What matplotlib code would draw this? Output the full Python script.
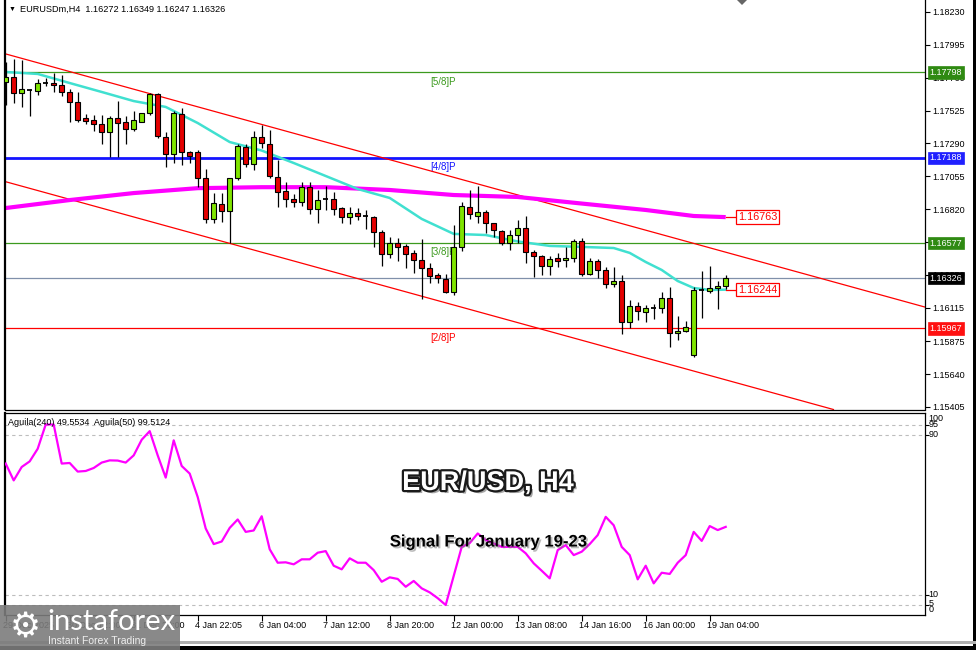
import matplotlib
matplotlib.use('Agg')
import matplotlib.pyplot as plt
import matplotlib.patheffects as pe
from matplotlib.patches import Rectangle, Polygon
from matplotlib.transforms import blended_transform_factory
import numpy as np

plt.rcParams['font.family'] = ['Liberation Sans', 'DejaVu Sans']

# ---------------- data ----------------
opens = [1.17729, 1.17763, 1.17653, 1.17672, 1.17667, 1.17720, 1.17720, 1.17708, 1.17660, 1.17588,
         1.17470, 1.17455, 1.17427, 1.17370, 1.17470, 1.17441, 1.17393, 1.17441, 1.17506, 1.17641,
         1.17338, 1.17212, 1.17500, 1.17227, 1.17227, 1.17045, 1.16747, 1.16855, 1.16809, 1.17041,
         1.17262, 1.17141, 1.17338, 1.17284, 1.17052, 1.16948, 1.16890, 1.16869, 1.16980, 1.16819,
         1.16893, 1.16893, 1.16826, 1.16762, 1.16795, 1.16771, 1.16766, 1.16659, 1.16497, 1.16576,
         1.16559, 1.16504, 1.16456, 1.16401, 1.16349, 1.16318, 1.16230, 1.16547, 1.16837, 1.16773,
         1.16802, 1.16719, 1.16666, 1.16580, 1.16635, 1.16683, 1.16516, 1.16487, 1.16416, 1.16468,
         1.16456, 1.16468, 1.16590, 1.16354, 1.16449, 1.16385, 1.16282, 1.16306, 1.16015, 1.16129,
         1.16082, 1.16115, 1.16115, 1.16187, 1.15932, 1.15951, 1.15777, 1.16242, 1.16237, 1.16254,
         1.16272]
highs = [1.17873, 1.17892, 1.17887, 1.17679, 1.17749, 1.17758, 1.17796, 1.17777, 1.17677, 1.17660,
         1.17498, 1.17493, 1.17493, 1.17488, 1.17593, 1.17486, 1.17520, 1.17508, 1.17648, 1.17648,
         1.17374, 1.17522, 1.17541, 1.17234, 1.17243, 1.17107, 1.16938, 1.16938, 1.17043, 1.17286,
         1.17284, 1.17379, 1.17422, 1.17386, 1.17172, 1.17016, 1.16928, 1.17016, 1.17016, 1.16957,
         1.16986, 1.16945, 1.16837, 1.16833, 1.16826, 1.16814, 1.16771, 1.16671, 1.16623, 1.16612,
         1.16570, 1.16528, 1.16604, 1.16433, 1.16361, 1.16354, 1.16707, 1.16873, 1.16957, 1.16986,
         1.16814, 1.16723, 1.16671, 1.16671, 1.16742, 1.16771, 1.16528, 1.16492, 1.16487, 1.16508,
         1.16549, 1.16604, 1.16614, 1.16468, 1.16465, 1.16404, 1.16406, 1.16349, 1.16170, 1.16158,
         1.16134, 1.16142, 1.16230, 1.16265, 1.16056, 1.16020, 1.16265, 1.16380, 1.16413, 1.16306,
         1.16349]
lows = [1.17565, 1.17577, 1.17553, 1.17488, 1.17636, 1.17701, 1.17660, 1.17629, 1.17445, 1.17445,
        1.17429, 1.17381, 1.17286, 1.17195, 1.17195, 1.17284, 1.17381, 1.17440, 1.17491, 1.17327,
        1.17124, 1.17152, 1.17136, 1.17148, 1.16976, 1.16719, 1.16723, 1.16730, 1.16576, 1.17028,
        1.17124, 1.17100, 1.17255, 1.17045, 1.16833, 1.16833, 1.16837, 1.16842, 1.16783, 1.16723,
        1.16814, 1.16778, 1.16723, 1.16714, 1.16742, 1.16676, 1.16551, 1.16416, 1.16468, 1.16449,
        1.16397, 1.16361, 1.16175, 1.16290, 1.16290, 1.16218, 1.16206, 1.16523, 1.16750, 1.16723,
        1.16647, 1.16623, 1.16564, 1.16528, 1.16576, 1.16433, 1.16337, 1.16349, 1.16349, 1.16408,
        1.16404, 1.16442, 1.16342, 1.16349, 1.16325, 1.16254, 1.16260, 1.15925, 1.15972, 1.16027,
        1.16015, 1.16032, 1.16075, 1.15836, 1.15884, 1.15939, 1.15762, 1.16039, 1.16218, 1.16104,
        1.16247]
closes = [1.17763, 1.17653, 1.17677, 1.17670, 1.17720, 1.17721, 1.17706, 1.17660, 1.17588, 1.17458,
          1.17453, 1.17427, 1.17370, 1.17470, 1.17434, 1.17395, 1.17455, 1.17506, 1.17641, 1.17345,
          1.17212, 1.17506, 1.17227, 1.17198, 1.17045, 1.16747, 1.16862, 1.16809, 1.17043, 1.17272,
          1.17141, 1.17338, 1.17291, 1.17057, 1.16945, 1.16890, 1.16869, 1.16980, 1.16819, 1.16885,
          1.16891, 1.16819, 1.16762, 1.16795, 1.16773, 1.16769, 1.16659, 1.16497, 1.16576, 1.16551,
          1.16497, 1.16456, 1.16397, 1.16342, 1.16325, 1.16230, 1.16547, 1.16842, 1.16785, 1.16802,
          1.16719, 1.16671, 1.16580, 1.16635, 1.16683, 1.16516, 1.16487, 1.16416, 1.16461, 1.16451,
          1.16468, 1.16590, 1.16356, 1.16447, 1.16385, 1.16282, 1.16303, 1.16015, 1.16129, 1.16092,
          1.16111, 1.16113, 1.16182, 1.15932, 1.15951, 1.15979, 1.16242, 1.16240, 1.16254, 1.16272,
          1.16326]

ma_fast_idx = [0, 4, 8, 12, 16, 20, 24, 28, 32, 36, 40, 44, 48, 52, 56, 60, 64, 68, 72, 76, 78, 80, 82, 84, 86, 88, 90]
ma_fast_val = [1.17801, 1.17787, 1.17722, 1.17658, 1.17593, 1.17551, 1.17436, 1.17300, 1.17239, 1.17150,
               1.17057, 1.16964, 1.16900, 1.16750, 1.16643, 1.16635, 1.16589, 1.16557, 1.16550, 1.16542,
               1.16507, 1.16442, 1.16385, 1.16306, 1.16256, 1.16242, 1.16244]
ma_slow_idx = [0, 8, 16, 24, 32, 40, 48, 56, 64, 72, 80, 86, 90]
ma_slow_val = [1.16828, 1.16885, 1.16935, 1.16970, 1.16977, 1.16977, 1.16957, 1.16921, 1.16907, 1.16860,
               1.16814, 1.16771, 1.16763]

# Murrey levels
level_vals = [1.17798, 1.17188, 1.16577, 1.15967]
level_names = ['[5/8]P', '[4/8]P', '[3/8]P', '[2/8]P']
current_price = 1.16326

# channel anchor points (bar index, price)
upper_chan = [(0, 1.17930), (90, 1.16512)]
lower_chan = [(0, 1.17016), (90, 1.15599)]

price_ticks = [1.18230, 1.17995, 1.17760, 1.17525, 1.17290, 1.17055, 1.16820, 1.16585, 1.16350,
               1.16115, 1.15875, 1.15640, 1.15405]

# oscillator (Aguila) values per bar
osc = [75.6, 67.2, 73.9, 76.7, 83.0, 95.1, 95.1, 75.6, 75.9, 71.6,
       71.9, 73.4, 76.1, 77.2, 77.1, 76.1, 79.7, 87.5, 91.8, 79.7,
       68.6, 87.2, 74.4, 70.6, 58.9, 43.2, 35.4, 36.7, 43.5, 47.7,
       41.5, 42.2, 49.3, 32.8, 26.1, 26.3, 25.3, 27.8, 27.8, 31.1,
       31.9, 24.6, 22.8, 28.3, 26.1, 26.1, 22.4, 16.6, 18.8, 18.0,
       14.1, 17.0, 13.3, 11.3, 8.4, 5.0, 19.5, 34.0, 35.9, 40.7,
       37.4, 35.7, 34.0, 34.0, 34.0, 30.8, 25.8, 22.1, 18.3, 32.4,
       34.9, 29.9, 31.6, 35.4, 39.9, 49.0, 44.8, 34.0, 29.9, 17.8,
       24.6, 15.8, 21.1, 20.5, 26.1, 29.9, 41.5, 37.0, 44.4, 42.4,
       44.0]
osc_levels = [95, 90, 10, 5]
osc_labels = ['100', '95', '90', '10', '5', '0']

time_tick_idx = [0, 8, 16, 24, 32, 40, 48, 56, 64, 72, 80, 88]
time_tick_labels = ['29 Dec 2025', '30 Dec 12:00', '31 Dec 20:00', '4 Jan 22:05', '6 Jan 04:00',
                    '7 Jan 12:00', '8 Jan 20:00', '12 Jan 00:00', '13 Jan 08:00', '14 Jan 16:00',
                    '16 Jan 00:00', '19 Jan 04:00']

# ---------------- layout helpers ----------------
W, HH = 976, 650
fig = plt.figure(figsize=(9.76, 6.5), dpi=100)
fig.patch.set_facecolor('white')


def fx(px):
    return px / W


def fy(py):
    return 1 - py / HH


L_PX, R_PX = 4.5, 925
ax = fig.add_axes([fx(L_PX), fy(409.5), fx(R_PX) - fx(L_PX), fy(0) - fy(409.5)])
ax2 = fig.add_axes([fx(L_PX), fy(615), fx(R_PX) - fx(L_PX), fy(412.7) - fy(615)])

x_lo, x_hi = -0.15, 114.91
for a in (ax, ax2):
    a.set_xlim(x_lo, x_hi)
    a.set_facecolor('white')
ax.set_ylim(1.15387, 1.183158)
ax2.set_ylim(0, 101)

# ---------------- main panel ----------------
GREEN_LVL = '#3c9a1e'
BULL = '#80e400'
BEAR = '#e40000'

ax.axhline(level_vals[0], color=GREEN_LVL, lw=0.9, zorder=1)
ax.axhline(level_vals[1], color='#1414ff', lw=2.0, zorder=1)
ax.axhline(level_vals[2], color=GREEN_LVL, lw=0.9, zorder=1)
ax.axhline(level_vals[3], color='#ff0000', lw=0.9, zorder=1)
ax.axhline(current_price, color='#8090aa', lw=0.9, zorder=1)

lvl_colors = [GREEN_LVL, '#1414ff', GREEN_LVL, '#ff0000']
for v, name, col in zip(level_vals, level_names, lvl_colors):
    ax.annotate(name, xy=(54.7, v), xytext=(0, -3), textcoords='offset points',
                ha='center', va='top', fontsize=7.0, color=col, zorder=2)

ax.axline(upper_chan[0], upper_chan[1], color='#ff0000', lw=0.9, zorder=2)
ax.axline(lower_chan[0], lower_chan[1], color='#ff0000', lw=0.9, zorder=2)

ax.plot(ma_slow_idx, ma_slow_val, color='#ff00ff', lw=3.0, zorder=2, solid_capstyle='butt')
ax.plot(ma_fast_idx, ma_fast_val, color='#40e0d0', lw=1.8, zorder=2)

for i, (o, h, l, c) in enumerate(zip(opens, highs, lows, closes)):
    ax.vlines(i, l, h, color='black', lw=0.9, zorder=3)
    if abs(c - o) < 0.000025:
        ax.hlines(o, i - 0.33, i + 0.33, color='black', lw=1.3, zorder=4)
    else:
        col = BULL if c > o else BEAR
        ax.add_patch(Rectangle((i - 0.3, min(o, c)), 0.6, abs(c - o), fc=col, ec='black',
                               lw=0.8, zorder=4))

# MA value boxes
for v in (ma_slow_val[-1], ma_fast_val[-1]):
    ax.plot([ma_fast_idx[-1], 91.25], [v, v], color='#ff0000', lw=0.9, zorder=5)
    ax.text(91.55, v, f'{v:.5f}', ha='left', va='center', fontsize=7.8, color='#ff0000', zorder=6,
            bbox=dict(boxstyle='square,pad=0.15', fc='white', ec='#ff0000', lw=0.9))

# right axis
ax.yaxis.tick_right()
ax.set_yticks(price_ticks)
ax.set_yticklabels([f'{t:.5f}' for t in price_ticks])
ax.tick_params(axis='y', length=3.5, width=0.8, pad=2, labelsize=6.5, colors='black')
ax.set_xticks([])
ax.spines['top'].set_visible(False)
ax.spines['left'].set_linewidth(1.6)
ax.spines['right'].set_linewidth(0.9)
ax.spines['bottom'].set_linewidth(0.9)

trans = blended_transform_factory(ax.transAxes, ax.transData)
box_specs = [(level_vals[0], '#2f8a12'), (level_vals[1], '#2020ff'), (level_vals[2], '#2f8a12'),
             (current_price, '#000000'), (level_vals[3], '#ff1010')]
for v, col in box_specs:
    ax.text(1.0048, v, f'{v:.5f}', transform=trans, ha='left', va='center', fontsize=6.5,
            color='white', zorder=10, clip_on=False,
            bbox=dict(boxstyle='square,pad=0.18', fc=col, ec=col, lw=0.5))

# ---------------- oscillator panel ----------------
for lv in osc_levels:
    ax2.axhline(lv, color='#bdbdbd', lw=0.8, ls=(0, (3, 3)), zorder=1)
ax2.plot(range(len(osc)), osc, color='#ff00ff', lw=1.6, zorder=3)
ax2.yaxis.tick_right()
ax2.set_yticks(osc_levels)
ax2.set_yticklabels([])
ax2.tick_params(axis='y', length=3, width=0.8)
for sp in ax2.spines.values():
    sp.set_linewidth(0.9)
ax2.spines['left'].set_linewidth(1.6)

t2 = blended_transform_factory(ax2.transAxes, ax2.transData)
for lab, pos in zip(osc_labels, [98.1, 95.1, 90.0, 10.0, 5.5, 2.5]):
    ax2.text(1.004, pos, lab, transform=t2, ha='left', va='center', fontsize=6.5, clip_on=False)

ax2.set_xticks(time_tick_idx)
ax2.set_xticklabels([])
ax2.tick_params(axis='x', length=4, width=0.8, direction='out')
tx = blended_transform_factory(ax2.transData, ax2.transAxes)
for idx, lab in zip(time_tick_idx, time_tick_labels):
    ax2.text(idx - 0.28, -0.05, lab, transform=tx, ha='left', va='center', fontsize=6.5,
             clip_on=False)

ax2.text(0.004, 0.954, 'Aguila(240) 49.5534  Aguila(50) 99.5124', transform=ax2.transAxes,
         ha='left', va='center', fontsize=6.5)

# ---------------- overlays ----------------
fig.text(fx(12), fy(9), '\u25bc', fontsize=5, ha='center', va='center')
fig.text(fx(20), fy(9), 'EURUSDm,H4  1.16272 1.16349 1.16247 1.16326', fontsize=6.6,
         ha='left', va='center')

fig.text(fx(488), fy(483), 'EUR/USD, H4', fontsize=19.5, fontweight='bold', color='white',
         ha='center', va='center',
         path_effects=[pe.SimplePatchShadow(offset=(2.2, -2.2), shadow_rgbFace='black', alpha=0.35),
                       pe.Stroke(linewidth=3.2, foreground='#1a1a1a'), pe.Normal()])
fig.text(fx(488), fy(542), 'Signal For January 19-23', fontsize=12, fontweight='bold',
         color='black', ha='center', va='center',
         path_effects=[pe.SimplePatchShadow(offset=(1.3, -1.3), shadow_rgbFace='#777777', alpha=0.5),
                       pe.Normal()])

# chart shift marker
fig.patches.append(Polygon([(fx(737), fy(0)), (fx(747), fy(0)), (fx(742), fy(5))], closed=True,
                           transform=fig.transFigure, fc='#666666', ec='none'))

# window borders
fig.patches.append(Rectangle((fx(972.5), 0), fx(976) - fx(972.5), 1, transform=fig.transFigure,
                             fc='black', ec='none'))
fig.patches.append(Rectangle((0, fy(650)), 1, fy(646) - fy(650), transform=fig.transFigure,
                             fc='black', ec='none'))
fig.patches.append(Rectangle((0, fy(643.5)), 1, fy(641) - fy(643.5), transform=fig.transFigure,
                             fc='#b0b0b0', ec='none'))

# logo
fig.patches.append(Rectangle((0, fy(650)), fx(180), fy(605) - fy(650), transform=fig.transFigure,
                             fc='#7c7c7c', ec='none', alpha=0.9, zorder=5))
fig.text(fx(25), fy(627), '\u2699', fontsize=25, color='white', ha='center', va='center',
         family=['DejaVu Sans'], zorder=6)
fig.text(fx(47), fy(622), 'instaforex', fontsize=21, color='white', ha='left', va='center',
         family=['Lato', 'Liberation Sans', 'DejaVu Sans'], zorder=6)
fig.text(fx(48), fy(641), 'Instant Forex Trading', fontsize=7.5, color='#eeeeee', ha='left',
         va='center', zorder=6)

fig.savefig('out.png', dpi=100, facecolor='white')
